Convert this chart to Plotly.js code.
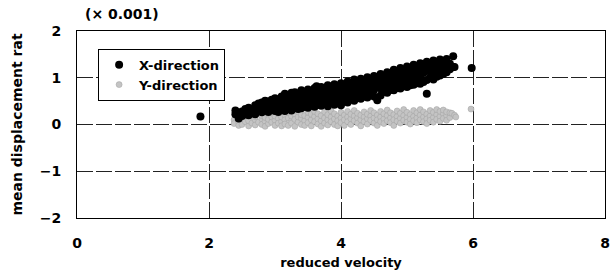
<!DOCTYPE html>
<html>
<head>
<meta charset="utf-8">
<script src="https://cdn.plot.ly/plotly-3.0.1.min.js"></script>
<style>html,body{margin:0;padding:0;background:#fff;}#chart{width:611px;height:274px;}</style>
</head>
<body>
<div id="chart"></div>
<script>
// X-direction (black) points
const xDirX = [
1.87,2.40,2.40,2.45,2.45,2.50,2.50,2.55,2.55,2.60,2.60,2.60,2.65,2.65,2.70,2.70,2.70,2.75,2.75,
2.80,2.80,2.80,2.85,2.85,2.85,2.90,2.90,2.90,2.95,2.95,2.95,3.00,3.00,3.00,3.00,3.05,3.05,3.05,
3.10,3.10,3.10,3.15,3.15,3.15,3.15,3.20,3.20,3.20,3.25,3.25,3.25,3.25,3.30,3.30,3.30,3.35,3.35,3.35,
3.40,3.40,3.40,3.40,3.45,3.45,3.45,3.50,3.50,3.50,3.50,3.55,3.55,3.55,3.60,3.60,3.60,3.60,3.63,
3.65,3.65,3.65,3.70,3.70,3.70,3.70,3.75,3.75,3.75,3.80,3.80,3.80,3.80,3.85,3.85,3.85,
3.90,3.90,3.90,3.90,3.95,3.95,3.95,4.00,4.00,4.00,4.00,4.05,4.05,4.05,4.10,4.10,4.10,4.10,
4.15,4.15,4.15,4.20,4.20,4.20,4.20,4.25,4.25,4.25,4.30,4.30,4.30,4.30,4.35,4.35,4.35,
4.40,4.40,4.40,4.40,4.45,4.45,4.45,4.50,4.50,4.50,4.50,4.55,4.55,4.55,4.60,4.60,4.60,4.60,
4.65,4.65,4.65,4.70,4.70,4.70,4.70,4.75,4.75,4.75,4.80,4.80,4.80,4.80,4.85,4.85,4.85,
4.90,4.90,4.90,4.90,4.95,4.95,4.95,5.00,5.00,5.00,5.00,5.05,5.05,5.05,5.10,5.10,5.10,5.10,
5.15,5.15,5.15,5.20,5.20,5.20,5.20,5.25,5.25,5.25,5.30,5.30,5.30,5.30,5.35,5.35,5.35,
5.40,5.40,5.40,5.40,5.45,5.45,5.45,5.50,5.50,5.50,5.50,5.55,5.55,5.55,5.60,5.60,5.60,
5.65,5.65,5.70,5.70,5.72,5.98
];
const xDirY = [
0.17,0.30,0.22,0.13,0.25,0.18,0.28,0.22,0.33,0.26,0.20,0.36,0.24,0.31,0.41,0.28,0.22,0.45,0.33,
0.26,0.38,0.47,0.51,0.30,0.42,0.27,0.36,0.49,0.44,0.32,0.53,0.56,0.29,0.40,0.48,0.35,0.52,0.27,
0.60,0.31,0.45,0.66,0.38,0.53,0.29,0.33,0.48,0.62,0.57,0.41,0.30,0.68,0.69,0.36,0.50,0.45,0.62,0.33,
0.73,0.40,0.55,0.35,0.66,0.48,0.38,0.75,0.36,0.58,0.44,0.52,0.70,0.40,0.78,0.38,0.62,0.47,0.82,
0.55,0.72,0.42,0.80,0.40,0.65,0.50,0.58,0.74,0.44,0.84,0.39,0.68,0.52,0.60,0.78,0.46,
0.86,0.42,0.70,0.55,0.63,0.80,0.48,0.88,0.41,0.72,0.57,0.66,0.83,0.50,0.92,0.47,0.75,0.60,
0.70,0.86,0.54,0.96,0.51,0.80,0.64,0.73,0.90,0.57,0.98,0.55,0.84,0.68,0.77,0.94,0.60,
1.01,0.58,0.87,0.71,0.80,0.97,0.64,1.04,0.60,0.90,0.74,0.84,1.00,0.52,1.08,0.62,0.94,0.77,
0.86,1.04,0.70,1.12,0.68,0.97,0.81,0.90,1.08,0.74,1.17,0.73,1.02,0.86,0.95,1.12,0.78,
1.21,0.77,1.06,0.90,0.99,1.16,0.82,1.24,0.80,1.10,0.93,1.02,1.20,0.84,1.28,0.85,1.14,0.97,
1.06,1.24,0.88,1.31,0.87,1.17,1.00,1.10,1.27,0.91,1.34,0.66,1.20,0.95,1.13,1.30,1.00,
1.37,0.96,1.24,1.08,1.16,1.33,1.02,1.39,1.05,1.27,1.14,1.20,1.36,1.08,1.40,1.12,1.28,
1.30,1.18,1.46,1.23,1.23,1.21
];
// Y-direction (grey) points
const yDirX = [
1.88,2.38,2.38,2.45,2.45,2.45,2.50,2.50,2.55,2.55,2.60,2.60,2.60,2.65,2.65,2.70,2.70,2.70,2.75,2.75,
2.80,2.80,2.80,2.85,2.85,2.85,2.90,2.90,2.90,2.95,2.95,2.95,3.00,3.00,3.00,3.05,3.05,3.05,
3.10,3.10,3.10,3.15,3.15,3.15,3.20,3.20,3.20,3.25,3.25,3.25,3.30,3.30,3.30,3.35,3.35,3.35,
3.40,3.40,3.40,3.45,3.45,3.45,3.50,3.50,3.50,3.55,3.55,3.55,3.60,3.60,3.60,3.65,3.65,3.65,
3.70,3.70,3.70,3.75,3.75,3.75,3.80,3.80,3.80,3.85,3.85,3.85,3.90,3.90,3.90,3.95,3.95,3.95,
4.00,4.00,4.00,4.05,4.05,4.05,4.10,4.10,4.10,4.15,4.15,4.15,4.20,4.20,4.20,4.25,4.25,4.25,
4.30,4.30,4.30,4.35,4.35,4.35,4.40,4.40,4.40,4.45,4.45,4.45,4.50,4.50,4.50,4.55,4.55,4.55,
4.60,4.60,4.60,4.65,4.65,4.65,4.70,4.70,4.70,4.75,4.75,4.75,4.80,4.80,4.80,4.85,4.85,4.85,
4.90,4.90,4.90,4.95,4.95,4.95,5.00,5.00,5.00,5.05,5.05,5.05,5.10,5.10,5.10,5.15,5.15,5.15,
5.20,5.20,5.20,5.25,5.25,5.25,5.30,5.30,5.30,5.35,5.35,5.35,5.40,5.40,5.40,5.45,5.45,5.45,
5.50,5.50,5.50,5.55,5.55,5.55,5.60,5.60,5.60,5.65,5.65,5.68,5.72,5.74,5.97
];
const yDirY = [
0.16,0.10,0.02,0.18,0.05,-0.02,0.12,0.00,0.20,0.06,0.14,-0.03,0.08,0.22,0.03,0.10,0.17,-0.01,0.05,0.24,
0.12,0.00,0.19,0.07,0.15,-0.04,0.21,0.02,0.11,0.16,0.05,0.25,0.09,-0.02,0.18,0.13,0.03,0.23,
0.06,0.16,-0.03,0.20,0.10,0.01,0.14,-0.02,0.26,0.08,0.18,0.03,0.22,0.11,-0.04,0.05,0.16,0.27,
0.13,0.00,0.21,0.08,0.19,-0.02,0.15,0.04,0.26,0.10,0.22,-0.03,0.17,0.06,0.28,0.12,0.01,0.23,
0.08,0.19,-0.04,0.14,0.27,0.03,0.10,0.21,-0.01,0.16,0.06,0.29,0.12,0.23,0.00,0.18,0.08,-0.03,
0.14,0.26,0.04,0.20,0.10,-0.02,0.16,0.28,0.06,0.12,0.22,0.00,0.18,0.08,0.30,0.14,0.03,0.24,
0.10,0.20,-0.03,0.16,0.27,0.06,0.12,0.22,0.01,0.18,0.09,0.30,0.14,0.25,0.03,0.20,0.10,-0.02,
0.16,0.28,0.06,0.12,0.23,0.02,0.19,0.08,0.31,0.14,0.25,0.04,0.21,0.10,-0.02,0.17,0.29,0.07,
0.13,0.24,0.03,0.19,0.09,0.32,0.15,0.26,0.05,0.21,0.11,0.01,0.17,0.30,0.08,0.14,0.25,0.04,
0.20,0.10,0.32,0.16,0.27,0.06,0.22,0.12,0.02,0.18,0.30,0.09,0.15,0.26,0.05,0.21,0.11,0.32,
0.17,0.28,0.07,0.23,0.13,0.31,0.19,0.09,0.27,0.15,0.25,0.24,0.20,0.16,0.33
];
const xTicks = [0, 2, 4, 6, 8];
const yTicks = [-2, -1, 0, 1, 2];

const F = "DejaVu Sans, Arial, sans-serif";
const traces = [
  {
    x: yDirX, y: yDirY, type: 'scatter', mode: 'markers', name: 'Y-direction',
    marker: {color: '#c4c4c4', size: 6, symbol: 'circle', line: {color: '#a0a0a0', width: 0.5}}
  },
  {
    x: xDirX, y: xDirY, type: 'scatter', mode: 'markers', name: 'X-direction',
    marker: {color: '#000000', size: 8, symbol: 'circle'}
  }
];
const gridDash = '16px,3px';
const layout = {
  width: 611, height: 274,
  margin: {l: 77, r: 6, t: 31, b: 56},
  paper_bgcolor: '#fff', plot_bgcolor: '#fff',
  font: {family: F, size: 13, color: '#000', weight: 'bold'},
  showlegend: true,
  legend: {
    x: 0.04, y: 0.905, xanchor: 'left', yanchor: 'top',
    bgcolor: '#fff', bordercolor: '#000', borderwidth: 1,
    traceorder: 'reversed', itemwidth: 30, tracegroupgap: 0,
    font: {family: F, size: 13, color: '#000', weight: 'bold'}
  },
  xaxis: {
    range: [0, 8], tickvals: xTicks, ticktext: xTicks.map(String),
    showgrid: true, gridcolor: '#222', griddash: gridDash, gridwidth: 1,
    zeroline: false, showline: true, linecolor: '#000', linewidth: 1, mirror: true,
    ticks: 'outside', ticklen: 12, tickcolor: 'rgba(0,0,0,0)', ticklabeloverflow: 'allow',
    tickfont: {family: F, size: 14, weight: 'bold'},
    title: {text: 'reduced velocity', font: {family: F, size: 13, weight: 'bold'}, standoff: 8}
  },
  yaxis: {
    range: [-2, 2], tickvals: yTicks, ticktext: yTicks.map(v => v < 0 ? '\u2212' + Math.abs(v) : String(v)),
    showgrid: true, gridcolor: '#222', griddash: gridDash, gridwidth: 1,
    zeroline: false, showline: true, linecolor: '#000', linewidth: 1, mirror: true,
    ticks: 'outside', ticklen: 12, tickcolor: 'rgba(0,0,0,0)',
    tickfont: {family: F, size: 14, weight: 'bold'},
    title: {text: 'mean displacement rat', font: {family: F, size: 14, weight: 'bold'}, standoff: 13}
  },
  annotations: [{
    xref: 'paper', yref: 'paper', x: 0.012, y: 1.035, xanchor: 'left', yanchor: 'bottom',
    text: '(\u00d7 0.001)', showarrow: false,
    font: {family: F, size: 14, weight: 'bold', color: '#000'}
  }]
};
Plotly.newPlot('chart', traces, layout, {staticPlot: true, displayModeBar: false});
</script>
</body>
</html>
